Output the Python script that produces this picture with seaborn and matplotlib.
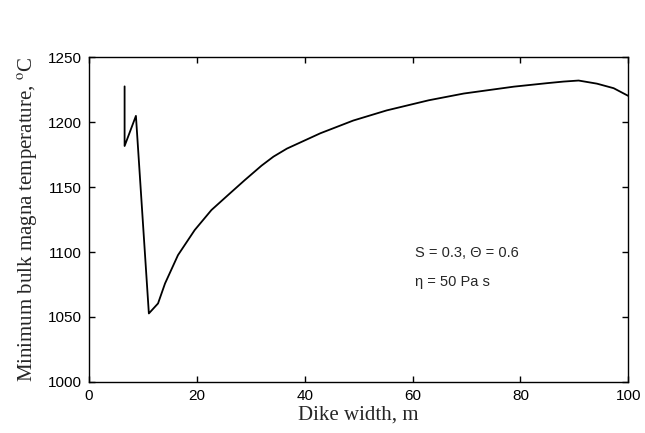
import matplotlib
matplotlib.use("Agg")
import matplotlib.pyplot as plt
import seaborn as sns
import pandas as pd

dike_width = [6.6, 6.6, 8.7, 11.1, 12.8, 14.1, 16.5, 19.6, 22.7, 25.8, 28.9, 32.0,
              34.2, 36.7, 42.9, 49.0, 55.2, 63.0, 69.5, 78.8, 85.0, 88.0, 90.8,
              94.2, 97.3, 100.0]
min_temp = [1227.5, 1181.6, 1204.8, 1052.7, 1060.4, 1075.8, 1097.6, 1116.9, 1132.3,
            1143.9, 1155.4, 1166.5, 1173.4, 1179.6, 1191.4, 1201.2, 1209.0, 1216.8,
            1222.0, 1227.3, 1230.0, 1231.2, 1232.0, 1229.6, 1226.1, 1220.2]
x_ticks = [0, 20, 40, 60, 80, 100]
y_ticks = [1000, 1050, 1100, 1150, 1200, 1250]

sns.set_style("ticks")
plt.rcParams['font.family'] = ['Liberation Sans', 'DejaVu Sans']
plt.rcParams['mathtext.fontset'] = 'stix'

df = pd.DataFrame({"w": dike_width, "T": min_temp})

fig = plt.figure(figsize=(6.45, 4.33), dpi=100)
ax = fig.add_axes([0.138, 0.118, 0.836, 0.750])
sns.lineplot(data=df, x="w", y="T", sort=False, estimator=None, color="black",
             linewidth=1.3, ax=ax)

ax.set_xlim(0, 100)
ax.set_ylim(1000, 1250)
ax.set_xticks(x_ticks)
ax.set_yticks(y_ticks)
ax.tick_params(direction="in", top=True, right=True, length=4, width=1,
               labelsize=11, colors="black", pad=5)
for s in ax.spines.values():
    s.set_visible(True)
    s.set_linewidth(1.0)
    s.set_color("black")

ax.set_xlabel("Dike width, m", family="Liberation Serif", fontsize=15, labelpad=2)
ax.set_ylabel(r"Minimum bulk magna temperature, $^{\mathrm{o}}$C",
              family="Liberation Serif", fontsize=15, labelpad=6)

ax.text(60.5, 1099, "S = 0.3, \u0398 = 0.6", fontsize=10.5, va="center", ha="left")
ax.text(60.5, 1077, "\u03b7 = 50 Pa s", fontsize=10.5, va="center", ha="left")

fig.savefig("out.png", dpi=100)
